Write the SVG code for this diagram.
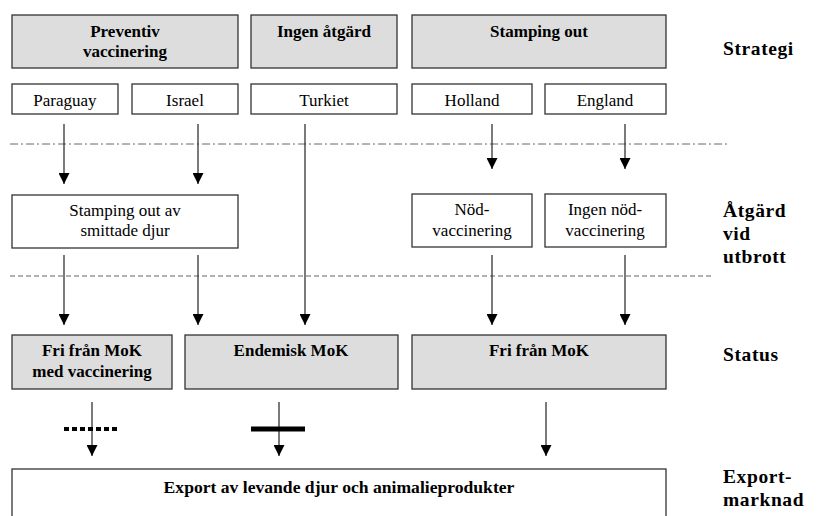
<svg xmlns="http://www.w3.org/2000/svg" width="817" height="516" viewBox="0 0 817 516">
<defs>
<marker id="ah" markerWidth="11" markerHeight="11" viewBox="0 0 11 11" refX="11" refY="5.5" orient="auto" markerUnits="userSpaceOnUse">
<path d="M0,0 L11,5.5 L0,11 Z" fill="#000"/>
</marker>
<style>
.g{fill:#dddddd;stroke:#333;stroke-width:1.3}
.w{fill:#fff;stroke:#333;stroke-width:1.3}
.b{font-family:"Liberation Serif","Times New Roman",serif;font-weight:bold;font-size:17px;fill:#000;text-anchor:middle}
.r{font-family:"Liberation Serif","Times New Roman",serif;font-size:17px;fill:#000;text-anchor:middle}
.L{font-family:"Liberation Serif","Times New Roman",serif;font-weight:bold;font-size:19.5px;letter-spacing:0.6px;fill:#000}
.c{stroke:#222;stroke-width:1.2;fill:none;marker-end:url(#ah)}
</style>
</defs>
<rect width="817" height="516" fill="#fff"/>
<g id="separators">
<line x1="10" y1="144" x2="728" y2="144" stroke="#666" stroke-width="1" stroke-dasharray="8 3 2 3"/>
<line x1="10" y1="276" x2="712" y2="276" stroke="#666" stroke-width="1" stroke-dasharray="5 3"/>
</g>
<g id="n-preventiv"><rect class="g" x="12" y="15" width="226" height="53"/><text class="b" x="125" y="37">Preventiv</text><text class="b" x="125" y="57">vaccinering</text></g>
<g id="n-ingen"><rect class="g" x="251" y="15" width="146" height="53"/><text class="b" x="324" y="37">Ingen åtgärd</text></g>
<g id="n-stamping"><rect class="g" x="412" y="15" width="254" height="53"/><text class="b" x="539" y="37">Stamping out</text></g>
<g id="n-paraguay"><rect class="w" x="12" y="84" width="106" height="30"/><text class="r" x="65" y="106">Paraguay</text></g>
<g id="n-israel"><rect class="w" x="132" y="84" width="106" height="30"/><text class="r" x="185" y="106">Israel</text></g>
<g id="n-turkiet"><rect class="w" x="251" y="84" width="146" height="30"/><text class="r" x="324" y="106">Turkiet</text></g>
<g id="n-holland"><rect class="w" x="412" y="84" width="120" height="30"/><text class="r" x="472" y="106">Holland</text></g>
<g id="n-england"><rect class="w" x="545" y="84" width="121" height="30"/><text class="r" x="605" y="106">England</text></g>
<g id="n-stampav"><rect class="w" x="12" y="195" width="226" height="53"/><text class="r" x="125" y="216">Stamping out av</text><text class="r" x="125" y="236">smittade djur</text></g>
<g id="n-nod"><rect class="w" x="412" y="194" width="120" height="53"/><text class="r" x="472" y="215">Nöd-</text><text class="r" x="472" y="236">vaccinering</text></g>
<g id="n-ingennod"><rect class="w" x="545" y="194" width="121" height="53"/><text class="r" x="605" y="215">Ingen nöd-</text><text class="r" x="605" y="236">vaccinering</text></g>
<g id="n-frimed"><rect class="g" x="12" y="335" width="160" height="54"/><text class="b" x="92" y="356">Fri från MoK</text><text class="b" x="92" y="377">med vaccinering</text></g>
<g id="n-endemisk"><rect class="g" x="185" y="335" width="213" height="54"/><text class="b" x="291" y="356">Endemisk MoK</text></g>
<g id="n-fri"><rect class="g" x="412" y="335" width="254" height="54"/><text class="b" x="539" y="356">Fri från MoK</text></g>
<g id="n-export"><rect class="w" x="12" y="469" width="654" height="60"/><text class="b" x="339" y="493" style="font-size:17.6px">Export av levande djur och animalieprodukter</text></g>
<g id="labels">
<text class="L" x="723" y="55">Strategi</text>
<text class="L" x="723" y="217">Åtgärd</text>
<text class="L" x="723" y="240">vid</text>
<text class="L" x="723" y="263">utbrott</text>
<text class="L" x="723" y="361">Status</text>
<text class="L" x="723" y="483">Export-</text>
<text class="L" x="723" y="506">marknad</text>
</g>
<g id="connectors">
<line class="c" x1="64" y1="124" x2="64" y2="184"/>
<line class="c" x1="198" y1="124" x2="198" y2="184"/>
<line class="c" x1="305" y1="124" x2="305" y2="325"/>
<line class="c" x1="492" y1="124" x2="492" y2="169"/>
<line class="c" x1="625" y1="124" x2="625" y2="169"/>
<line class="c" x1="64" y1="255" x2="64" y2="325"/>
<line class="c" x1="198" y1="255" x2="198" y2="325"/>
<line class="c" x1="492" y1="255" x2="492" y2="325"/>
<line class="c" x1="625" y1="255" x2="625" y2="325"/>
<line class="c" x1="92" y1="402" x2="92" y2="456"/>
<line class="c" x1="279" y1="402" x2="279" y2="456"/>
<line class="c" x1="546" y1="402" x2="546" y2="456"/>
<line x1="64" y1="429" x2="118" y2="429" stroke="#000" stroke-width="4" stroke-dasharray="5 3"/>
<line x1="251" y1="429" x2="305" y2="429" stroke="#000" stroke-width="5"/>
</g>
</svg>
